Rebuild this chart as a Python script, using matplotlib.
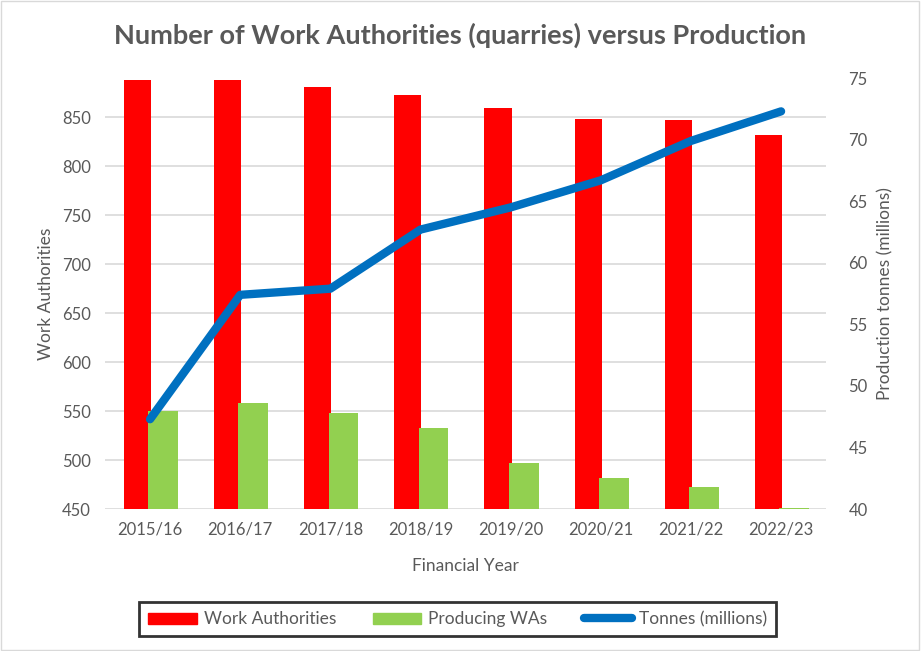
import numpy as np
import matplotlib
matplotlib.use("Agg")
import matplotlib.pyplot as plt
from matplotlib.patches import Patch, Rectangle
from matplotlib.lines import Line2D

# datos
years = ['2015/16', '2016/17', '2017/18', '2018/19', '2019/20', '2020/21', '2021/22', '2022/23']
work_authorities = [888, 888, 881, 873, 860, 848, 847, 832]
producing_was = [550, 558, 548, 533, 497, 482, 473, 451]
tonnes_millions = [47.3, 57.4, 57.9, 62.7, 64.5, 66.7, 69.9, 72.3]

plt.rcParams['font.family'] = ['Lato', 'DejaVu Sans']
gris = '#595959'

fig = plt.figure(figsize=(9.21, 6.51), dpi=100)
ax = fig.add_axes([0.114, 0.218, 0.783, 0.662])
ax2 = ax.twinx()

x = np.arange(len(years))
ax.bar(x - 0.14, work_authorities, width=0.30, color='#FF0000', zorder=2)
ax.bar(x + 0.145, producing_was, width=0.33, color='#92D050', zorder=3)
ax2.plot(x, tonnes_millions, color='#0070C0', linewidth=6, solid_capstyle='round', zorder=4)

ax.set_xlim(-0.5, len(years) - 0.5)
ax.set_ylim(450, 890)
ax.set_yticks(np.arange(450, 851, 50))
ax2.set_ylim(40, 75)
ax2.set_yticks(np.arange(40, 76, 5))
ax.set_xticks(x)
ax.set_xticklabels(years)

ax.yaxis.grid(True, color='#D9D9D9', linewidth=1.2, zorder=0)
ax.set_axisbelow(True)
for a in (ax, ax2):
    for s in a.spines.values():
        s.set_visible(False)
    a.tick_params(length=0, labelsize=12, labelcolor=gris)
ax.tick_params(axis='y', pad=10)
ax.tick_params(axis='x', pad=9)
ax2.tick_params(axis='y', pad=16)

ax.set_ylabel('Work Authorities', fontsize=12.5, color=gris, labelpad=6)
ax2.set_ylabel('Production tonnes (millions)', fontsize=12.5, color=gris, labelpad=7)
ax.set_xlabel('Financial Year', fontsize=12.5, color=gris, labelpad=15)

fig.text(0.5, 0.946, 'Number of Work Authorities (quarries) versus Production',
         ha='center', va='center', fontsize=19.5, fontweight='bold', color=gris)

handles = [Patch(color='#FF0000'), Patch(color='#92D050'),
           Line2D([], [], color='#0070C0', linewidth=6, solid_capstyle='round')]
labels = ['Work Authorities', 'Producing WAs', 'Tonnes (millions)']
leg = fig.legend(handles, labels, ncol=3, loc='center', bbox_to_anchor=(0.497, 0.049),
                 frameon=True, fancybox=False, fontsize=12.5, labelcolor=gris,
                 handlelength=2.8, handleheight=0.6, handletextpad=0.4,
                 columnspacing=2.1, borderpad=0.5, borderaxespad=0)
leg.get_frame().set_edgecolor('black')
leg.get_frame().set_linewidth(2)

fig.patches.append(Rectangle((0.001, 0.002), 0.997, 0.996, transform=fig.transFigure,
                             fill=False, edgecolor='#D9D9D9', linewidth=1))

fig.savefig('out.png', dpi=100)
